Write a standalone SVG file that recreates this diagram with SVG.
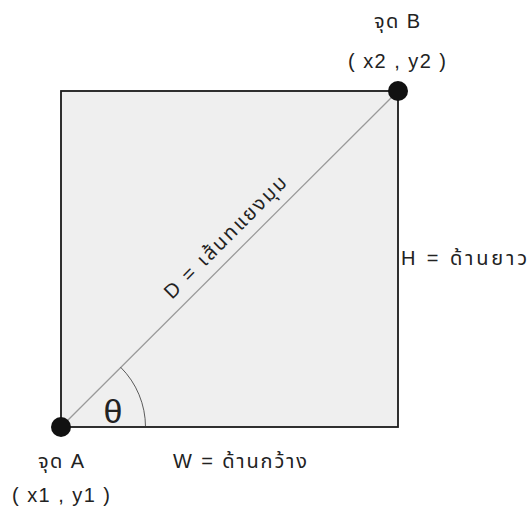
<svg xmlns="http://www.w3.org/2000/svg" width="531" height="515" viewBox="0 0 531 515">
  <style>
    .lbl { font-family: "Liberation Sans", "Noto Sans Thai", "Noto Sans", "DejaVu Sans", sans-serif; font-size: 20px; fill: #222; }
    .theta { font-family: "Liberation Sans", "DejaVu Sans", sans-serif; font-size: 34px; fill: #222; }
    .dot { fill: #111; }
  </style>
  <rect width="531" height="515" fill="#ffffff"/>
  <g id="square">
    <rect x="61" y="91" width="337" height="336" fill="#efefef" stroke="#1a1a1a" stroke-width="1.8"/>
  </g>
  <g id="connectors">
    <line id="diagonal" x1="61" y1="427" x2="398" y2="91" stroke="#9a9a9a" stroke-width="1.3"/>
    <path id="angle-arc" d="M 145.5 427 A 84.5 84.5 0 0 0 120.7 367.3" fill="none" stroke="#333" stroke-width="0.8"/>
  </g>
  <g id="pointA">
    <circle class="dot" cx="61" cy="427" r="10"/>
    <text class="lbl" x="38" y="468" textLength="46" lengthAdjust="spacing">จุด A</text>
    <text class="lbl" x="12" y="502" textLength="98" lengthAdjust="spacing">( x1 , y1 )</text>
  </g>
  <g id="pointB">
    <circle class="dot" cx="398" cy="91" r="10"/>
    <text class="lbl" x="374" y="28" textLength="46" lengthAdjust="spacing">จุด B</text>
    <text class="lbl" x="348" y="68" textLength="98" lengthAdjust="spacing">( x2 , y2 )</text>
  </g>
  <g id="width-label">
    <text class="lbl" x="173" y="468" textLength="134" lengthAdjust="spacing">W = ด้านกว้าง</text>
  </g>
  <g id="height-label">
    <text class="lbl" x="401" y="265" textLength="126" lengthAdjust="spacing">H = ด้านยาว</text>
  </g>
  <g id="diagonal-label">
    <text class="lbl" x="172" y="300" textLength="164" lengthAdjust="spacing" transform="rotate(-45 172 300)">D = เส้นทแยงมุม</text>
  </g>
  <g id="angle-label">
    <text class="theta" x="113" y="423" text-anchor="middle">θ</text>
  </g>
</svg>
